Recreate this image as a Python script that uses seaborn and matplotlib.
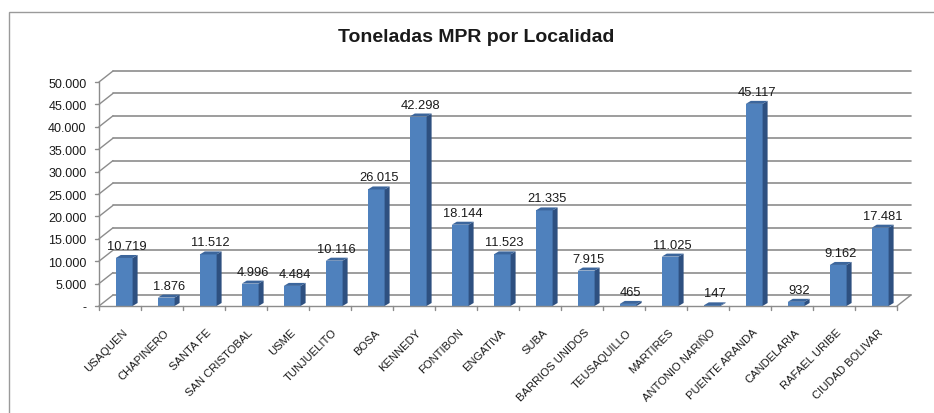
import matplotlib
matplotlib.use("Agg")
import matplotlib.pyplot as plt
from matplotlib.patches import Polygon, Rectangle
import pandas as pd
import seaborn as sns

sns.set_theme(style="white")
plt.rcParams["font.family"] = ["Liberation Sans", "DejaVu Sans"]

localidades = ["USAQUEN", "CHAPINERO", "SANTA FE", "SAN CRISTOBAL", "USME", "TUNJUELITO",
               "BOSA", "KENNEDY", "FONTIBON", "ENGATIVA", "SUBA", "BARRIOS UNIDOS",
               "TEUSAQUILLO", "MARTIRES", "ANTONIO NARIÑO", "PUENTE ARANDA",
               "CANDELARIA", "RAFAEL URIBE", "CIUDAD BOLIVAR"]
toneladas = [10719, 1876, 11512, 4996, 4484, 10116, 26015, 42298, 18144, 11523,
             21335, 7915, 465, 11025, 147, 45117, 932, 9162, 17481]
y_ticks = [0, 5000, 10000, 15000, 20000, 25000, 30000, 35000, 40000, 45000, 50000]

df = pd.DataFrame({"localidad": localidades, "ton": toneladas})

W, H = 934, 414
FRONT, SIDE, TOP = "#4F81BD", "#2E5080", "#3C669C"
GRID = "#8C8C8C"

fig = plt.figure(figsize=(W / 100, H / 100), dpi=100)
fig.patches.append(Rectangle((9 / W, -0.1), 1.1, (H - 13) / H + 0.1, transform=fig.transFigure,
                             fill=False, edgecolor="#9A9A9A", lw=1.0))
ax = fig.add_axes([99 / W, (H - 307) / H, 798 / W, 224 / H])
sns.barplot(data=df, x="localidad", y="ton", color=FRONT, width=0.4, saturation=1,
            edgecolor="none", ax=ax, zorder=3)
n = len(localidades)
ax.set_xlim(-0.5, n - 0.5)
ax.set_ylim(0, 50000)

# pixel -> data conversions
px_x = n / 798
px_y = 50000 / 224

# back wall gridlines, left wall diagonals, floor
gdx, gdy = 14 * px_x, 11 * px_y
for v in y_ticks:
    ax.plot([-0.5 + gdx, n - 0.5 + gdx], [v + gdy, v + gdy], color=GRID, lw=1.2,
            clip_on=False, zorder=1)
    ax.plot([-0.5, -0.5 + gdx], [v, v + gdy], color=GRID, lw=1.0, clip_on=False, zorder=1)
    ax.plot([-0.5 - 4 * px_x, -0.5], [v, v], color=GRID, lw=1.0, clip_on=False, zorder=1)
ax.plot([-0.5, -0.5], [0, 50000], color=GRID, lw=1.0, clip_on=False, zorder=1)
ax.plot([-0.5, n - 0.5], [0, 0], color=GRID, lw=1.0, clip_on=False, zorder=4)
ax.plot([n - 0.5, n - 0.5 + gdx], [0, gdy], color=GRID, lw=1.0, clip_on=False, zorder=4)
for i in range(n + 1):
    ax.plot([i - 0.5, i - 0.5], [0, -4 * px_y], color=GRID, lw=1.0, clip_on=False, zorder=4)

# 3D faces on the bars
dx, dy = 5 * px_x, 3 * px_y
shift = 0.1
for p, v in zip(ax.patches, toneladas):
    p.set_x(p.get_x() + shift)
    x0, w = p.get_x(), p.get_width()
    x1 = x0 + w
    ax.add_patch(Polygon([(x1, 0), (x1 + dx, dy), (x1 + dx, v + dy), (x1, v)],
                         closed=True, facecolor=SIDE, edgecolor="none", zorder=3, clip_on=False))
    ax.add_patch(Polygon([(x0, v), (x1, v), (x1 + dx, v + dy), (x0 + dx, v + dy)],
                         closed=True, facecolor=TOP, edgecolor="none", zorder=3, clip_on=False))
    ax.text(x0 + w / 2 + dx / 2, v + dy + 3 * px_y, f"{v:,}".replace(",", "."),
            ha="center", va="bottom", fontsize=9.3, color="#1A1A1A", zorder=5)

ax.set_yticks(y_ticks)
ax.set_yticklabels(["-" if v == 0 else f"{v:,}".replace(",", ".") for v in y_ticks],
                   fontsize=9, color="#1A1A1A")
ax.tick_params(axis="y", length=0, pad=9)
ax.set_xticks([i + 0.05 for i in range(n)])
ax.set_xticklabels(localidades, rotation=45, ha="right", rotation_mode="anchor",
                   fontsize=8.1, color="#1A1A1A")
ax.tick_params(axis="x", length=0, pad=15)
ax.set_xlabel("")
ax.set_ylabel("")
for s in ax.spines.values():
    s.set_visible(False)
ax.patch.set_alpha(0)

fig.text(476 / W, 1 - 37 / H, "Toneladas MPR por Localidad", ha="center", va="center",
         fontsize=14, fontweight="bold", color="#1A1A1A")

fig.savefig("out.png", dpi=100)
